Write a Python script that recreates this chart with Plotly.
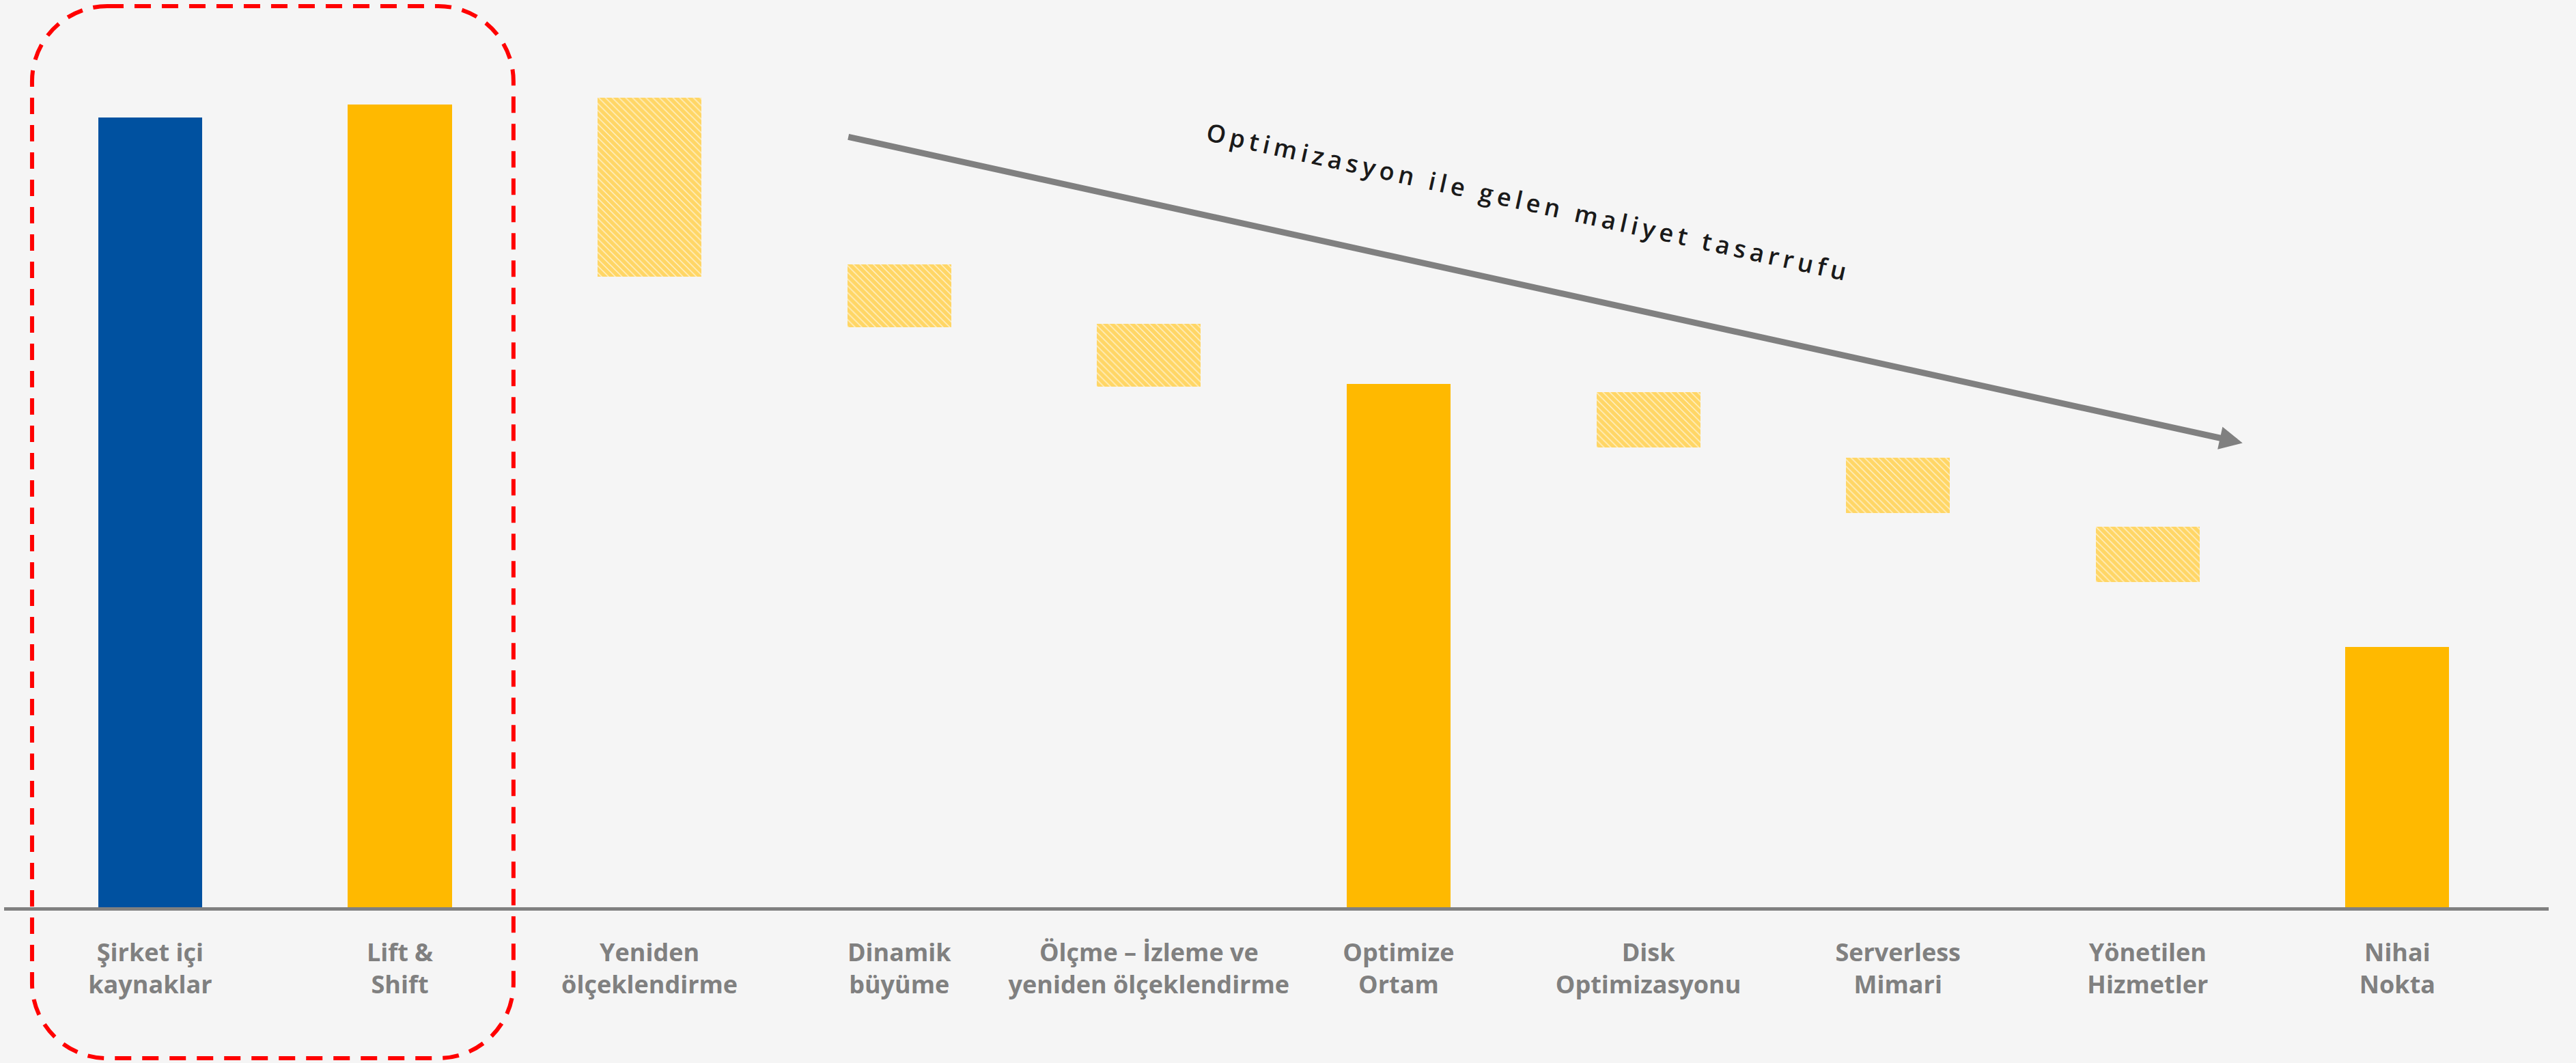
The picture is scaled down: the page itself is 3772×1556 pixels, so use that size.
import plotly.graph_objects as go

# Cost stages of the cloud journey (index units, on-prem = 100)
categories = [
    "Şirket içi<br>kaynaklar",
    "Lift &amp;<br>Shift",
    "Yeniden<br>ölçeklendirme",
    "Dinamik<br>büyüme",
    "Ölçme – İzleme ve<br>yeniden ölçeklendirme",
    "Optimize<br>Ortam",
    "Disk<br>Optimizasyonu",
    "Serverless<br>Mimari",
    "Yönetilen<br>Hizmetler",
    "Nihai<br>Nokta",
]
# Solid totals (None where the stage is a saving step)
totals = [100.0, 101.7, None, None, None, 66.3, None, None, None, 33.0]
# Saving steps drawn as floating hatched bars
step_top = [None, None, 102.5, 81.4, 73.9, None, 65.2, 56.9, 48.2, None]
step_bottom = [None, None, 79.9, 73.5, 65.9, None, 58.2, 49.9, 41.2, None]

BLUE = "#0051A0"
YELLOW = "#FFB900"
GREY = "#808080"
BG = "#F5F5F5"

W, H = 3772, 1556
M_L, M_R, M_T, M_B = 6, 40, 0, 228
X_RANGE = [-0.585, 9.606]
Y_RANGE = [0, 114.9]
BAR_W = 0.416

idx = list(range(len(categories)))

fig = go.Figure()

# Solid total bars
tot_x = [i for i in idx if totals[i] is not None]
tot_y = [totals[i] for i in tot_x]
tot_c = [BLUE if i == 0 else YELLOW for i in tot_x]
fig.add_trace(go.Bar(
    x=tot_x, y=tot_y, width=BAR_W,
    marker=dict(color=tot_c, line=dict(width=0)),
    hoverinfo="skip", showlegend=False,
))

# Floating hatched saving bars
st_x = [i for i in idx if step_top[i] is not None]
st_base = [step_bottom[i] for i in st_x]
st_h = [step_top[i] - step_bottom[i] for i in st_x]
fig.add_trace(go.Bar(
    x=st_x, y=st_h, base=st_base, width=BAR_W,
    marker=dict(
        color="#FFF2CC",
        line=dict(width=0),
        pattern=dict(shape="\\", fgcolor=YELLOW, bgcolor="#FFF2CC",
                     size=7, solidity=0.8),
    ),
    hoverinfo="skip", showlegend=False,
))

# Trend arrow across the saving steps
tail_x = st_x[1] - BAR_W / 2          # left edge of "Dinamik büyüme"
tail_y = 97.6
tip_x = st_x[-1] + 0.38
tip_y = 58.8
fig.add_annotation(
    x=tip_x, y=tip_y, ax=tail_x, ay=tail_y,
    xref="x", yref="y", axref="x", ayref="y",
    text="", showarrow=True,
    arrowhead=2, arrowsize=0.75, arrowwidth=9, arrowcolor=GREY,
    standoff=0,
)

# Caption along the arrow
fig.add_annotation(
    x=5.52, y=89.3, xref="x", yref="y",
    text='<span style="letter-spacing:6.5px">Optimizasyon ile gelen maliyet tasarrufu</span>',
    showarrow=False, textangle=12.4,
    font=dict(family="Open Sans", size=36, color="#1A1A1A", weight=600),
    xanchor="center", yanchor="middle",
)

# Dashed rounded frame around the first two stages (paper coordinates)
def to_px(v):
    return (v - X_RANGE[0]) / (X_RANGE[1] - X_RANGE[0])

plot_h = H - M_T - M_B
x0, x1 = to_px(-0.473), to_px(1.455)
y1 = (plot_h - 9) / plot_h
y0 = (plot_h - 1549) / plot_h
rx = 110 / (W - M_L - M_R)
ry = 110 / plot_h
k = 0.552
path = (
    f"M{x0 + rx},{y1} L{x1 - rx},{y1} "
    f"C{x1 - rx + k * rx},{y1} {x1},{y1 - ry + k * ry} {x1},{y1 - ry} "
    f"L{x1},{y0 + ry} "
    f"C{x1},{y0 + ry - k * ry} {x1 - rx + k * rx},{y0} {x1 - rx},{y0} "
    f"L{x0 + rx},{y0} "
    f"C{x0 + rx - k * rx},{y0} {x0},{y0 + ry - k * ry} {x0},{y0 + ry} "
    f"L{x0},{y1 - ry} "
    f"C{x0},{y1 - ry + k * ry} {x0 + rx - k * rx},{y1} {x0 + rx},{y1} Z"
)
fig.add_shape(
    type="path", path=path, xref="paper", yref="paper",
    line=dict(color="#FF0000", width=6, dash="24px,16px"),
    fillcolor="rgba(0,0,0,0)", layer="above",
)

fig.update_layout(
    width=W, height=H,
    margin=dict(l=M_L, r=M_R, t=M_T, b=M_B, pad=0),
    paper_bgcolor=BG, plot_bgcolor=BG,
    bargap=0, barmode="overlay",
    showlegend=False,
    xaxis=dict(
        range=X_RANGE, tickmode="array", tickvals=idx, ticktext=categories,
        showgrid=False, zeroline=False, showline=True,
        linecolor=GREY, linewidth=5, ticks="",
        ticklabelstandoff=31,
        tickfont=dict(family="Open Sans", size=36, color=GREY, weight=700),
        fixedrange=True,
    ),
    yaxis=dict(
        range=Y_RANGE, visible=False, showgrid=False, zeroline=False,
        fixedrange=True,
    ),
)

fig.write_html("out.html")
